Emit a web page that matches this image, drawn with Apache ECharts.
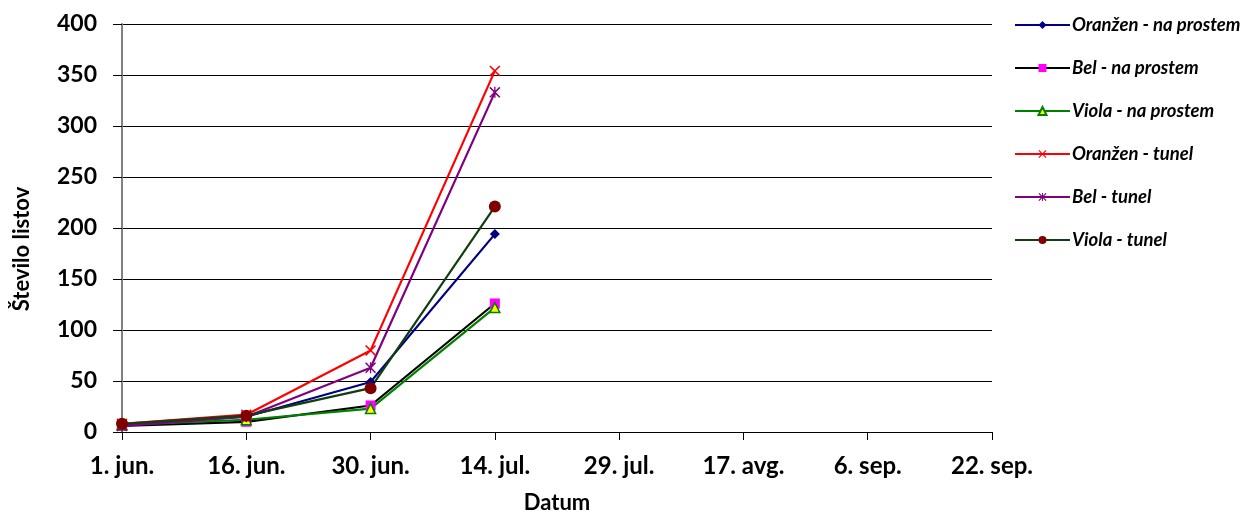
<!DOCTYPE html>
<html><head><meta charset="utf-8">
<script src="https://cdn.jsdelivr.net/npm/echarts@6/dist/echarts.min.js"></script>
<style>html,body{margin:0;padding:0;background:#fff}#c{width:1246px;height:512px}</style>
</head><body><div id="c"></div>
<script>
const categories = ['1. jun.', '16. jun.', '30. jun.', '14. jul.', '29. jul.', '17. avg.', '6. sep.', '22. sep.'];
const oranzenProstem = [7, 15, 49, 194];
const belProstem = [6, 10, 26, 126];
const violaProstem = [7, 12, 23, 122];
const oranzenTunel = [8, 17, 80, 354];
const belTunel = [6, 15, 63, 333];
const violaTunel = [8, 16, 43, 221];
const yTicks = [0, 50, 100, 150, 200, 250, 300, 350, 400];

const FONT = 'Lato, "Open Sans", sans-serif';
const xPath = 'path://M0,1L1,0L5,4L9,0L10,1L6,5L10,9L9,10L5,6L1,10L0,9L4,5Z';
const starPath = 'path://M0,1L1,0L5,4L9,0L10,1L6,5L10,9L9,10L5,6L1,10L0,9L4,5ZM4.4,0L5.6,0L5.6,10L4.4,10Z';

function s(name, data, lineColor, sym, symColor, size, border) {
  return {
    name, type: 'line', data, symbol: sym, symbolSize: size, showSymbol: true,
    lineStyle: { color: lineColor, width: 2.2 },
    itemStyle: { color: symColor, borderColor: border || symColor, borderWidth: border ? 1.5 : 0 },
    emphasis: { disabled: true }, animation: false, z: 3
  };
}

const chart = echarts.init(document.getElementById('c'));
chart.setOption({
  animation: false,
  grid: { left: 122, right: 254, top: 24, bottom: 80, containLabel: false, outerBoundsMode: 'none' },
  legend: {
    orient: 'vertical', left: 1009, top: 10, itemWidth: 55, itemHeight: 10, itemGap: 23,
    textStyle: { fontFamily: FONT, fontWeight: 'bold', fontStyle: 'italic', fontSize: 18.5, lineHeight: 20, color: '#000', padding: [0, 0, 0, -3] },
    data: ['Oranžen - na prostem', 'Bel - na prostem', 'Viola - na prostem', 'Oranžen - tunel', 'Bel - tunel', 'Viola - tunel']
  },
  graphic: [{
    type: 'text', x: 22, y: 249, rotation: Math.PI / 2,
    style: { text: 'Število listov', x: 0, y: 0, align: 'center', verticalAlign: 'middle',
      font: 'bold 22px Lato, "Open Sans", sans-serif', fill: '#000' }
  }],
  xAxis: {
    type: 'category', data: categories, boundaryGap: false,
    name: 'Datum', nameLocation: 'middle', nameGap: 60,
    nameTextStyle: { fontFamily: FONT, fontWeight: 'bold', fontSize: 22, color: '#000' },
    axisLine: { lineStyle: { color: '#000', width: 1 } },
    axisTick: { show: true, length: 8, lineStyle: { color: '#000' }, alignWithLabel: true },
    axisLabel: { fontFamily: FONT, fontWeight: 'bold', fontSize: 24, color: '#000', margin: 22 },
    splitLine: { show: false }
  },
  yAxis: {
    type: 'value', min: 0, max: 400, interval: 50,
    axisLine: { show: true, lineStyle: { color: '#808080', width: 2 } },
    axisTick: { show: true, length: 9, lineStyle: { color: '#000' } },
    axisLabel: { fontFamily: FONT, fontWeight: 'bold', fontSize: 23, color: '#000', margin: 25,
      formatter: v => yTicks.includes(v) ? String(v) : '' },
    splitLine: { lineStyle: { color: '#000', width: 1 } }
  },
  series: [
    s('Oranžen - na prostem', oranzenProstem, '#000080', 'diamond', '#000080', 10),
    s('Bel - na prostem', belProstem, '#000000', 'rect', '#ff00ff', 10),
    s('Viola - na prostem', violaProstem, '#008000', 'triangle', '#ffff00', 10, '#008000'),
    s('Oranžen - tunel', oranzenTunel, '#ff0000', xPath, '#ff0000', 11),
    s('Bel - tunel', belTunel, '#800080', starPath, '#800080', 11),
    s('Viola - tunel', violaTunel, '#0f3f0f', 'circle', '#800000', 12)
  ]
});
</script></body></html>
